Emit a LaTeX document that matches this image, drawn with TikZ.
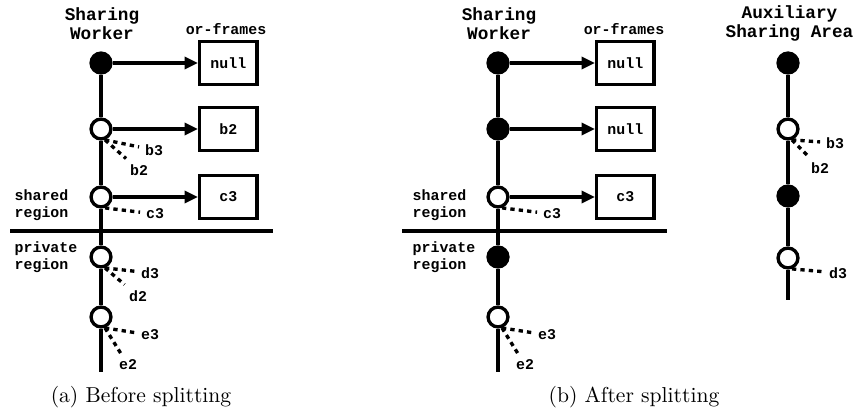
\documentclass[tikz,border=0pt]{standalone}
\usepackage{fontspec}
\setmonofont{Liberation Mono}
\usetikzlibrary{arrows.meta,positioning}

\begin{document}
\begin{tikzpicture}[x=0.463pt, y=-0.463pt, line width=1.55pt, >={Triangle[length=6.2pt,width=5.6pt]},
                    full/.style={circle, minimum size=9.2pt, inner sep=0pt, draw=black, fill=black},
                    empty/.style={circle, minimum size=9.2pt, inner sep=0pt, draw=black, fill=white},
                    frame/.style={rectangle, minimum width=26.6pt, minimum height=20.2pt, inner sep=0pt, text centered, draw=black, font=\ttfamily\bfseries\fontsize{6.9}{8}\selectfont},
                    tag/.style={inner sep=2pt, font=\ttfamily\bfseries\fontsize{6.9}{8}\selectfont},
                    region/.style={inner sep=0pt, anchor=west, align=left, font=\ttfamily\bfseries\fontsize{6.9}{7.9}\selectfont},
                    title/.style={inner sep=0pt, align=center, font=\ttfamily\bfseries\fontsize{8.2}{8.8}\selectfont},
                    link/.style={dash pattern=on 2pt off 1.9pt}]
        \useasboundingbox (0,0) rectangle (854,413);

        \node (aw) [title] at (102,23.5) {Sharing\\Worker};
        \node (ao) [tag] at (226,29) {or-frames};
        \node (a1) [full] at (101,63) {};
        \node (a2) [empty] at (101,129) {};
        \node (a3) [empty] at (101,197) {};
        \node (a4) [empty] at (101,257) {};
        \node (a5) [empty] at (101,317) {};
        \coordinate (aend) at (101,372);
        \node (af1) [frame, right=39.5pt of a1] {null};
        \node (af2) [frame, right=39.5pt of a2] {b2};
        \node (af3) [frame, right=39.5pt of a3] {c3};
        \node (ash) [region] at (13,205.5) {shared\\region};
        \node (apr) [region] at (13,257) {private\\region};
        \coordinate (al) at (10,231);
        \coordinate (ar) at (273,231);
        \node (ab3) [tag] at (154,150) {b3};
        \node (ab2) [tag] at (139,170) {b2};
        \node (ac3) [tag] at (155,214) {c3};
        \node (ad3) [tag] at (150,273) {d3};
        \node (ad2) [tag] at (138,296) {d2};
        \node (ae3) [tag] at (150,335) {e3};
        \node (ae2) [tag] at (128,365) {e2};
        \node (acap) at (141,397) {(a) Before splitting};

        \node (bw) [title] at (499,23.5) {Sharing\\Worker};
        \node (bo) [tag] at (624,29) {or-frames};
        \node (b1) [full] at (498,63) {};
        \node (b2) [full] at (498,129) {};
        \node (b3) [empty] at (498,197) {};
        \node (b4) [full] at (498,257) {};
        \node (b5) [empty] at (498,317) {};
        \coordinate (bend) at (498,372);
        \node (bf1) [frame, right=39.5pt of b1] {null};
        \node (bf2) [frame, right=39.5pt of b2] {null};
        \node (bf3) [frame, right=39.5pt of b3] {c3};
        \node (bsh) [region] at (411,205.5) {shared\\region};
        \node (bpr) [region] at (411,257) {private\\region};
        \coordinate (bl) at (402,231);
        \coordinate (br) at (667,231);
        \node (bc3) [tag] at (552,214) {c3};
        \node (be3) [tag] at (547,335) {e3};
        \node (be2) [tag] at (525,365) {e2};
        \node (bcap) at (634,397) {(b) After splitting};

        \node (cw) [title] at (789.5,23.5) {Auxiliary\\Sharing Area};
        \node (c1) [full] at (788,63) {};
        \node (c2) [empty] at (788,129) {};
        \node (c3) [full] at (788,196) {};
        \node (c4) [empty] at (788,258) {};
        \coordinate (cend) at (788,300);
        \node (cb3) [tag] at (835,143) {b3};
        \node (cb2) [tag] at (820,168) {b2};
        \node (cd3) [tag] at (838,273) {d3};

        \draw (a1) -- (a2) -- (a3) -- (a4) -- (a5) -- (aend);
        \draw (b1) -- (b2) -- (b3) -- (b4) -- (b5) -- (bend);
        \draw (c1) -- (c2) -- (c3) -- (c4) -- (cend);
        \draw (al) -- (ar);
        \draw (bl) -- (br);

        \path[->]
        (a1) edge (af1)
        (a2) edge (af2)
        (a3) edge (af3)
        (b1) edge (bf1)
        (b2) edge (bf2)
        (b3) edge (bf3)
        ;

        \path[link]
        (a2.-70) edge (ab3)
        (a2.-70) edge (ab2)
        (a3.-70) edge (ac3)
        (a4.-70) edge (ad3)
        (a4.-70) edge (ad2)
        (a5.-70) edge (ae3)
        (a5.-70) edge (ae2)
        (b3.-70) edge (bc3)
        (b5.-70) edge (be3)
        (b5.-70) edge (be2)
        (c2.-70) edge (cb3)
        (c2.-70) edge (cb2)
        (c4.-70) edge (cd3)
        ;
\end{tikzpicture}
\end{document}
